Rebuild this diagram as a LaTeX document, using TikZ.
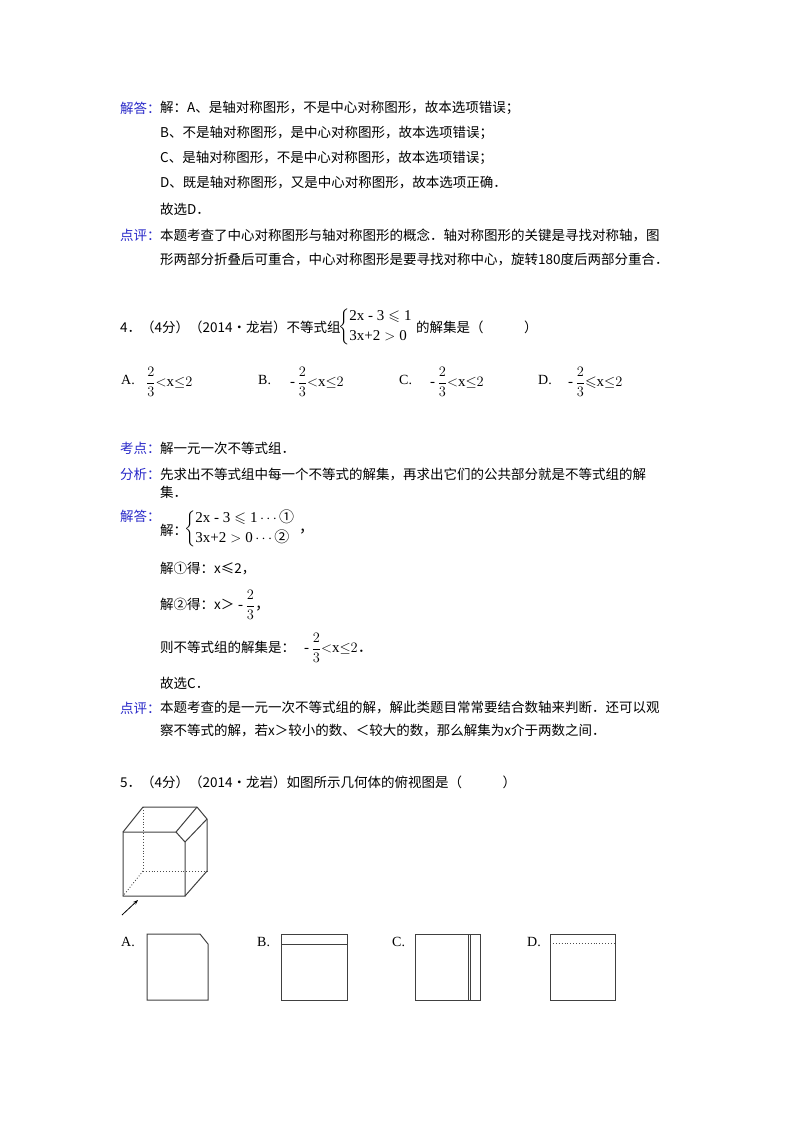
\documentclass[tikz,border=0pt]{standalone}
\usepackage{amsmath,amssymb}
\usepackage{fontspec}
\setmainfont{Liberation Serif}
\newfontfamily\cjk{Noto Sans CJK SC}
\usetikzlibrary{arrows.meta}
\definecolor{lab}{RGB}{40,40,200}
\begin{document}
\begin{tikzpicture}[x=1pt,y=-1pt,
 t/.style={anchor=west,inner sep=0pt,font=\cjk\fontsize{13.5}{16}\selectfont},
 m/.style={anchor=west,inner sep=0pt,font=\fontsize{15}{18}\selectfont},
 ol/.style={anchor=west,inner sep=0pt,font=\fontsize{14}{16}\selectfont},
 lb/.style={t,text=lab},
 fig/.style={line width=1pt,draw=black!75},
 hid/.style={line width=0.9pt,draw=black!70,dotted}]
\useasboundingbox (0,0) rectangle (800,1132);
\node[lb] (l1) at (120,108) {解答：};
\node[t] (a1) at (160,108) {解：A、是轴对称图形，不是中心对称图形，故本选项错误；};
\node[t] (a2) at (160,133) {B、不是轴对称图形，是中心对称图形，故本选项错误；};
\node[t] (a3) at (160,158) {C、是轴对称图形，不是中心对称图形，故本选项错误；};
\node[t] (a4) at (160,183) {D、既是轴对称图形，又是中心对称图形，故本选项正确．};
\node[t] (a5) at (160,209) {故选D．};
\node[lb] (l2) at (120,235) {点评：};
\node[t] (p1) at (160,235) {本题考查了中心对称图形与轴对称图形的概念．轴对称图形的关键是寻找对称轴，图};
\node[t] (p2) at (160,260) {形两部分折叠后可重合，中心对称图形是要寻找对称中心，旋转180度后两部分重合．};
\node[t] (q4) at (120,327) {4．（4分）（2014•龙岩）不等式组};
\node[m] (sys) at (338,327) {$\left\{\begin{array}{@{}l@{}}\text{2x - 3}\leqslant\text{1}\\[2pt] \text{3x+2}>\text{0}\end{array}\right.$};
\node[t] (q4b) at (416,327) {的解集是（\hspace{3em}）};
\node[ol] (oA) at (121,380) {A.};
\node[m] (fA) at (146,382) {$\dfrac{2}{3}{<}\text{x}{\leq}2$};
\node[ol] (oB) at (258,380) {B.};
\node[m] (fB) at (290,382) {$\text{-}\,\dfrac{2}{3}{<}\text{x}{\leq}2$};
\node[ol] (oC) at (399,380) {C.};
\node[m] (fC) at (430,382) {$\text{-}\,\dfrac{2}{3}{<}\text{x}{\leq}2$};
\node[ol] (oD) at (538,380) {D.};
\node[m] (fD) at (568,382) {$\text{-}\,\dfrac{2}{3}{\leqslant}\text{x}{\leq}2$};
\node[lb] (l3) at (120,448) {考点：};
\node[t] (k1) at (160,448) {解一元一次不等式组．};
\node[lb] (l4) at (120,474) {分析：};
\node[t] (f1) at (160,474) {先求出不等式组中每一个不等式的解集，再求出它们的公共部分就是不等式组的解};
\node[t] (f2) at (160,492) {集．};
\node[lb] (l5) at (120,516) {解答：};
\node[t] (j0) at (160,530) {解：};
\node[m] (sys2) at (184,529) {$\left\{\begin{array}{@{}l@{}}\text{2x - 3}\leqslant\text{1}\cdots\text{\cjk ①}\\[2pt] \text{3x+2}>\text{0}\cdots\text{\cjk ②}\end{array}\right.$\ {\cjk ，}};
\node[t] (j1) at (160,569) {解①得：x≤2，};
\node[t] (j2) at (160,604) {解②得：x＞};
\node[m] (j2f) at (238,605) {$\text{-}\,\dfrac{2}{3}${\cjk ，}};
\node[t] (j3) at (160,647) {则不等式组的解集是：};
\node[m] (j3f) at (304,648) {$\text{-}\,\dfrac{2}{3}{<}\text{x}{\leq}2${\cjk ．}};
\node[t] (j4) at (160,683) {故选C．};
\node[lb] (l6) at (120,708) {点评：};
\node[t] (d1) at (160,708) {本题考查的是一元一次不等式组的解，解此类题目常常要结合数轴来判断．还可以观};
\node[t] (d2) at (160,730) {察不等式的解，若x＞较小的数、＜较大的数，那么解集为x介于两数之间．};
\node[t] (q5) at (120,782) {5．（4分）（2014•龙岩）如图所示几何体的俯视图是（\hspace{3em}）};
% cube
\draw[fig] (123,832) -- (176,832) -- (185,842) -- (185,896) -- (123,896) -- cycle;
\draw[fig] (123,832) -- (143,807) -- (197,807) -- (207,819) -- (207,871) -- (185,896);
\draw[fig] (176,832) -- (197,807);
\draw[fig] (185,842) -- (207,819);
\draw[hid] (143,807) -- (143,871) -- (207,871);
\draw[hid] (143,871) -- (123,896);
\coordinate (ar1) at (122,915); \coordinate (ar2) at (138,900);
\draw[-{Stealth[length=5pt,open]},line width=0.8pt] (ar1) -- (ar2);
% options
\node[ol] (fa) at (121,942) {A.};
\node[ol] (fb) at (257,942) {B.};
\node[ol] (fc) at (392,942) {C.};
\node[ol] (fd) at (527,942) {D.};
\draw[fig] (147,934) -- (200,934) -- (208,944) -- (208,1000) -- (147,1000) -- cycle;
\draw[fig] (281,934) rectangle (347,1000);
\draw[fig] (281,944) -- (347,944);
\draw[fig] (415,934) rectangle (480,1000);
\draw[fig,line width=0.7pt] (468,934) -- (468,1000);
\draw[fig,line width=0.7pt] (470.5,934) -- (470.5,1000);
\draw[fig] (550,934) rectangle (615,1000);
\draw[hid] (550,943) -- (615,943);
\end{tikzpicture}
\end{document}
